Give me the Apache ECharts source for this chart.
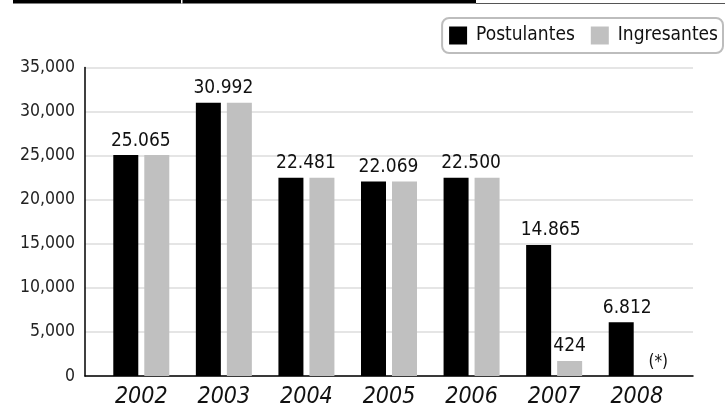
<!DOCTYPE html>
<html>
<head>
<meta charset="utf-8">
<script src="https://cdn.jsdelivr.net/npm/echarts@6/dist/echarts.min.js"></script>
<style>
html,body{margin:0;padding:0;background:#fff;}
#chart{width:725px;height:411px;}
</style>
</head>
<body>
<div id="chart"></div>
<script>
// ---- data ----
var years = ['2002', '2003', '2004', '2005', '2006', '2007', '2008'];
var postulantes = [25065, 30992, 22481, 22069, 22500, 14865, 6100];
var ingresantes = [25065, 30992, 22481, 22069, 22500, 1700, 0];
var postulantesLabels = ['25.065', '30.992', '22.481', '22.069', '22.500', '14.865', '6.812'];
var ingresantesLabels = ['', '', '', '', '', '424', '(*)'];
var yTicks = [0, 5000, 10000, 15000, 20000, 25000, 30000, 35000];

// ---- presentation ----
var FONT = "'DejaVu Sans Condensed', 'Liberation Sans Narrow', 'Arial Narrow', sans-serif";
var postShift = [15, 15, 15, 15, 15, 12, 6];
var ingShift = [0, 0, 0, 0, 0, 0, 6];

var chart = echarts.init(document.getElementById('chart'), null, {renderer: 'canvas'});

var yMin = yTicks[0], yMax = yTicks[yTicks.length - 1], yStep = yTicks[1] - yTicks[0];

var postData = postulantes.map(function (v, i) {
  return {value: v, label: {offset: [postShift[i], 0], formatter: postulantesLabels[i]}};
});
var ingData = ingresantes.map(function (v, i) {
  var isNote = ingresantesLabels[i] === '(*)';
  return {value: v, label: {show: ingresantesLabels[i] !== '', offset: [ingShift[i], 0],
    formatter: ingresantesLabels[i], fontSize: isNote ? 17 : 19}};
});

var option = {
  animation: false,
  backgroundColor: '#fff',
  textStyle: {fontFamily: FONT},
  legend: {
    right: 2, top: 18,
    padding: [8, 5, 8, 7],
    itemWidth: 18, itemHeight: 18, itemGap: 16,
    borderColor: '#bdbdbd', borderWidth: 2, borderRadius: 7,
    icon: 'rect',
    textStyle: {fontFamily: FONT, fontSize: 19, color: '#111', padding: [0, 0, 0, 4]},
    data: ['Postulantes', 'Ingresantes']
  },
  grid: [
    {left: 85, right: 32, top: 67.5, bottom: 35},
    {left: 100, right: 47, top: 67.5, bottom: 35}
  ],
  xAxis: [
    {type: 'category', gridIndex: 0, data: years,
      axisLine: {show: true, lineStyle: {color: '#000', width: 1.5}},
      axisTick: {show: false}, axisLabel: {show: false}, splitLine: {show: false}},
    {type: 'category', gridIndex: 1, data: years,
      axisLine: {show: false}, axisTick: {show: false},
      axisLabel: {fontFamily: FONT, fontSize: 23, fontStyle: 'italic', color: '#111', margin: 10}}
  ],
  yAxis: [
    {type: 'value', gridIndex: 0, min: yMin, max: yMax, interval: yStep,
      axisLine: {show: true, lineStyle: {color: '#000', width: 1.5}},
      axisTick: {show: false},
      axisLabel: {fontFamily: FONT, fontSize: 17.5, color: '#222', margin: 10,
        formatter: function (v) { return v.toLocaleString('en-US'); }},
      splitLine: {show: true, lineStyle: {color: '#dcdcdc', width: 1.5}}},
    {type: 'value', gridIndex: 1, min: yMin, max: yMax, interval: yStep,
      axisLine: {show: false}, axisTick: {show: false}, axisLabel: {show: false},
      splitLine: {show: false}}
  ],
  series: [
    {name: 'Postulantes', type: 'bar', xAxisIndex: 1, yAxisIndex: 1,
      barWidth: 25, barGap: '24%',
      itemStyle: {color: '#000'},
      label: {show: true, position: 'top', distance: 5, fontFamily: FONT, fontSize: 19, color: '#111'},
      data: postData},
    {name: 'Ingresantes', type: 'bar', xAxisIndex: 1, yAxisIndex: 1,
      barWidth: 25, barGap: '24%',
      itemStyle: {color: '#c0c0c0'},
      label: {show: true, position: 'top', distance: 5, fontFamily: FONT, fontSize: 19, color: '#111'},
      data: ingData}
  ],
  graphic: [
    {type: 'rect', shape: {x: 13, y: 0, width: 463, height: 3.5}, style: {fill: '#000'}},
    {type: 'rect', shape: {x: 181, y: 0, width: 1.5, height: 3.5}, style: {fill: '#fff'}},
    {type: 'line', shape: {x1: 476, y1: 3.5, x2: 725, y2: 3.5}, style: {stroke: '#555', lineWidth: 1}}
  ]
};
chart.setOption(option);
</script>
</body>
</html>
